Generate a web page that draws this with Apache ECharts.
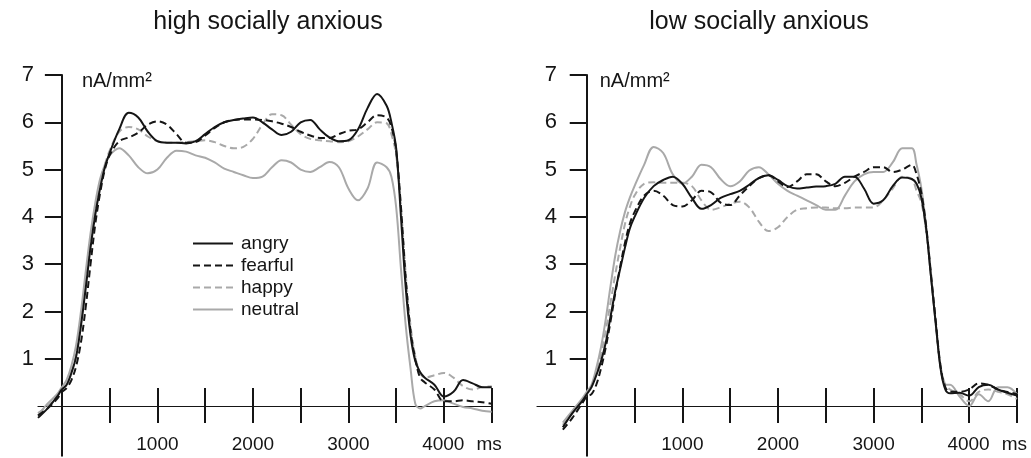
<!DOCTYPE html>
<html lang="en">
<head>
    <meta charset="UTF-8">
    <title>socially anxious</title>
    <style>
        html, body {
            margin: 0;
            padding: 0;
            background-color: #fff;
        }
        #chart {
            width: 1031px;
            height: 458px;
        }
    </style>
</head>
<body>
<div id="chart"></div>
<script src="https://cdn.jsdelivr.net/npm/echarts@6/dist/echarts.min.js"></script>
<script>
    // time points (ms)
    var times = [-250, -150, -50, 0,
        50, 100, 150, 200, 250, 300, 350, 400, 450, 500,
        600, 700, 800, 900, 1000, 1100, 1200, 1300, 1400, 1500, 1600, 1700, 1800, 1900, 2000,
        2100, 2200, 2300, 2400, 2500, 2600, 2700, 2800, 2900, 3000, 3100, 3200, 3300, 3400,
        3450, 3500, 3550, 3600, 3650, 3700, 3750,
        3800, 3900, 4000, 4100, 4200, 4300, 4400, 4500];

    // high socially anxious
    var hiAngry = [-0.25, -0.05, 0.2, 0.35,
        0.45, 0.7, 1.05, 1.7, 2.5, 3.35, 4.05, 4.6, 5.05, 5.35,
        5.85, 6.2, 6.1, 5.8, 5.6, 5.57, 5.57, 5.55, 5.6, 5.75, 5.9, 6.0, 6.05, 6.08, 6.1,
        6.0, 5.85, 5.73, 5.8, 6.0, 6.05, 5.85, 5.68, 5.6, 5.62, 5.85, 6.3, 6.6, 6.35,
        6.0, 5.45, 4.0, 2.5, 1.5, 0.95, 0.72,
        0.6, 0.45, 0.2, 0.3, 0.55, 0.48, 0.4, 0.4];
    var hiFearful = [-0.2, -0.05, 0.15, 0.3,
        0.38, 0.55, 0.85, 1.35, 2.1, 3.0, 3.85, 4.5, 5.0, 5.3,
        5.6, 5.68, 5.78, 5.95, 6.02, 5.95, 5.75, 5.57, 5.58, 5.72, 5.88, 6.0, 6.05, 6.06, 6.06,
        6.05, 6.02, 5.97, 5.9, 5.8, 5.72, 5.67, 5.67, 5.75, 5.82, 5.85, 6.0, 6.15, 6.1,
        5.9, 5.4, 4.2, 2.7, 1.6, 1.0, 0.6,
        0.5, 0.35, 0.1, 0.1, 0.12, 0.1, 0.08, 0.05];
    var hiHappy = [-0.15, 0.0, 0.2, 0.35,
        0.45, 0.7, 1.1, 1.75, 2.6, 3.45, 4.15, 4.7, 5.1, 5.4,
        5.8, 5.9, 5.85, 5.7, 5.6, 5.57, 5.57, 5.58, 5.6, 5.62, 5.58, 5.5, 5.45, 5.48, 5.65,
        5.95, 6.17, 6.15, 5.95, 5.75, 5.65, 5.62, 5.6, 5.58, 5.6, 5.7, 5.85, 6.0, 5.98,
        5.75, 5.3, 4.2, 2.8, 1.7, 1.05, 0.7,
        0.6, 0.65, 0.7, 0.6, 0.42, 0.35, 0.4, 0.42];
    var hiNeutral = [-0.2, 0.05, 0.25, 0.4,
        0.55, 0.85, 1.3, 2.0, 2.85, 3.65, 4.3, 4.8, 5.1, 5.3,
        5.45, 5.3, 5.05, 4.92, 5.0, 5.25, 5.4, 5.38, 5.3, 5.25, 5.15, 5.02, 4.95, 4.88, 4.82,
        4.85, 5.05, 5.2, 5.15, 5.0, 4.95, 5.05, 5.16, 5.05, 4.6, 4.35, 4.6, 5.15, 5.05,
        4.85, 4.2, 2.9, 1.7, 0.8, 0.05, -0.05,
        0.0, 0.1, 0.12, 0.05, -0.02, -0.05, -0.1, -0.12];

    // low socially anxious
    var loAngry = [-0.45, -0.15, 0.1, 0.25,
        0.4, 0.65, 0.95, 1.35, 1.9, 2.45, 2.9, 3.35, 3.75, 4.0,
        4.4, 4.65, 4.78, 4.85, 4.7, 4.4, 4.17, 4.25, 4.4, 4.48, 4.55, 4.68, 4.82, 4.88, 4.78,
        4.65, 4.6, 4.62, 4.64, 4.65, 4.7, 4.85, 4.85, 4.6, 4.28, 4.35, 4.65, 4.83, 4.8,
        4.7, 4.4, 3.75, 2.75, 1.75, 0.8, 0.35,
        0.27, 0.28, 0.22, 0.4, 0.45, 0.35, 0.28, 0.22];
    var loFearful = [-0.5, -0.25, 0.05, 0.2,
        0.25, 0.45, 0.8, 1.25, 1.8, 2.4, 2.95, 3.45, 3.85, 4.1,
        4.45, 4.55, 4.45, 4.25, 4.22, 4.35, 4.55, 4.52, 4.3, 4.25, 4.45, 4.65, 4.82, 4.88, 4.75,
        4.63, 4.75, 4.9, 4.9, 4.75, 4.65, 4.72, 4.85, 4.95, 5.05, 5.05, 4.95, 5.0, 5.1,
        4.9, 4.5, 3.8, 2.8, 1.8, 0.85, 0.4,
        0.3, 0.3, 0.35, 0.48, 0.45, 0.35, 0.3, 0.25];
    var loHappy = [-0.4, -0.15, 0.1, 0.25,
        0.4, 0.7, 1.1, 1.6, 2.2, 2.8, 3.35, 3.85, 4.2, 4.45,
        4.7, 4.73, 4.72, 4.72, 4.72, 4.65, 4.35, 4.15, 4.2, 4.28, 4.32, 4.2, 3.9, 3.7, 3.78,
        4.0, 4.15, 4.18, 4.2, 4.2, 4.18, 4.18, 4.2, 4.2, 4.2, 4.35, 4.6, 4.85, 4.8,
        4.55, 4.3, 3.7, 2.75, 1.75, 0.85, 0.45,
        0.35, 0.25, 0.1, 0.3, 0.35, 0.3, 0.25, 0.15];
    var loNeutral = [-0.35, -0.1, 0.15, 0.3,
        0.45, 0.8, 1.25, 1.85, 2.55, 3.2, 3.7, 4.1, 4.4, 4.65,
        5.1, 5.48, 5.35, 4.9, 4.7, 4.85, 5.1, 5.05, 4.8, 4.65, 4.75, 4.98, 5.05, 4.9, 4.7,
        4.55, 4.45, 4.35, 4.25, 4.15, 4.15, 4.45, 4.75, 4.9, 4.95, 4.95, 5.15, 5.45, 5.45,
        5.1, 4.6, 3.8, 2.75, 1.75, 0.85, 0.45,
        0.45, 0.2, 0.0, 0.25, 0.1, 0.4, 0.4, 0.25];

    // ticks and labels
    var yTicks = [1, 2, 3, 4, 5, 6, 7];
    var xTicks = [500, 1000, 1500, 2000, 2500, 3000, 3500, 4000, 4500];
    var xLabels = [1000, 2000, 3000, 4000];

    var names = ['angry', 'fearful', 'happy', 'neutral'];
    var titles = ['high socially anxious', 'low socially anxious'];

    var black = '#151515';
    var gray = '#a9a9a9';
    var fontFamily = '"Liberation Sans", Arial, sans-serif';

    var styles = {
        angry: {color: black, type: 'solid'},
        fearful: {color: black, type: [7, 4]},
        happy: {color: gray, type: [7, 4]},
        neutral: {color: gray, type: 'solid'}
    };

    function pairs(arr) {
        return times.map(function (t, i) {
            return [t, arr[i]];
        });
    }

    // bottom axis: line, downward ticks, labels
    // (labels stay at the grid edge when the line sits on zero, hence the negative margin)
    function makeX(gridIndex, min) {
        return {
            type: 'value', gridIndex: gridIndex, min: min, max: 4500, position: 'bottom',
            axisLine: {onZero: true, lineStyle: {color: black, width: 1.2}},
            axisTick: {show: true, customValues: xTicks, length: 17, lineStyle: {color: black, width: 2}},
            axisLabel: {
                customValues: xLabels, margin: -20, color: black, fontSize: 19, fontFamily: fontFamily,
                formatter: function (v) {
                    if (v === 4000) return '{p| }{n|4000}{u|ms}';
                    return '{n|' + v + '}';
                },
                rich: {
                    p: {width: 36, fontSize: 19},
                    n: {fontSize: 19, fontFamily: fontFamily, color: black},
                    u: {fontSize: 19, fontFamily: fontFamily, color: black, padding: [0, 0, 0, 12]}
                }
            },
            splitLine: {show: false}
        };
    }

    // top axis sitting on zero too: only the upward half of the ticks
    function makeXUp(gridIndex, min, yIndex) {
        return {
            type: 'value', gridIndex: gridIndex, min: min, max: 4500, position: 'top',
            axisLine: {show: false, onZero: true, onZeroAxisIndex: yIndex},
            axisTick: {show: true, customValues: xTicks, length: 18, lineStyle: {color: black, width: 2}},
            axisLabel: {show: false},
            splitLine: {show: false}
        };
    }

    function makeY(gridIndex, namePad, labelMargin) {
        return {
            type: 'value', gridIndex: gridIndex, min: -1.05, max: 7,
            name: 'nA/mm²',
            nameLocation: 'end',
            nameGap: -6,
            nameTextStyle: {
                color: black, fontSize: 20, fontFamily: fontFamily,
                align: 'left', verticalAlign: 'middle', padding: [0, 0, 0, namePad]
            },
            axisLine: {show: true, onZero: true, lineStyle: {color: black, width: 2}},
            axisTick: {show: true, customValues: yTicks, length: 17, lineStyle: {color: black, width: 2}},
            axisLabel: {customValues: yTicks, margin: labelMargin, color: black, fontSize: 22, fontFamily: fontFamily},
            splitLine: {show: false}
        };
    }

    function makeYHidden(gridIndex) {
        return {
            type: 'value', gridIndex: gridIndex, min: -1.05, max: 7, show: false,
            axisLine: {onZero: false}
        };
    }

    var groups = [
        [hiAngry, hiFearful, hiHappy, hiNeutral],
        [loAngry, loFearful, loHappy, loNeutral]
    ];

    var series = [];
    groups.forEach(function (group, g) {
        // grays first so the black lines sit on top
        [3, 2, 1, 0].forEach(function (k) {
            var st = styles[names[k]];
            series.push({
                name: names[k],
                type: 'line',
                xAxisIndex: g * 2,
                yAxisIndex: g,
                data: pairs(group[k]),
                smooth: 0.35,
                symbol: 'none',
                lineStyle: {color: st.color, type: st.type, width: 2},
                itemStyle: {color: st.color},
                emphasis: {disabled: true}
            });
        });
    });

    var chart = echarts.init(document.getElementById('chart'), null, {renderer: 'canvas'});
    chart.setOption({
        backgroundColor: '#fff',
        animation: false,
        title: [
            {text: titles[0], left: 263, top: 5, textAlign: 'center',
                textStyle: {fontSize: 25, fontWeight: 'normal', color: black, fontFamily: fontFamily}},
            {text: titles[1], left: 754, top: 5, textAlign: 'center',
                textStyle: {fontSize: 25, fontWeight: 'normal', color: black, fontFamily: fontFamily}}
        ],
        legend: {
            data: names,
            orient: 'vertical',
            left: 192,
            top: 234,
            padding: 0,
            itemWidth: 40,
            itemHeight: 14,
            itemGap: 3,
            itemStyle: {opacity: 0},
            textStyle: {fontSize: 19, color: black, fontFamily: fontFamily, padding: [0, 0, 0, 3]}
        },
        grid: [
            {left: 38, width: 453.7, top: 75, height: 380.7, outerBoundsMode: 'none', containLabel: false},
            {left: 537, width: 480, top: 75, height: 380.7, outerBoundsMode: 'none', containLabel: false}
        ],
        xAxis: [
            makeX(0, -250),
            makeXUp(0, -250, 2),
            makeX(1, -520),
            makeXUp(1, -520, 3)
        ],
        yAxis: [
            makeY(0, 20, 4),
            makeY(1, 13, -20),
            makeYHidden(0),
            makeYHidden(1)
        ],
        series: series
    });
</script>
</body>
</html>
